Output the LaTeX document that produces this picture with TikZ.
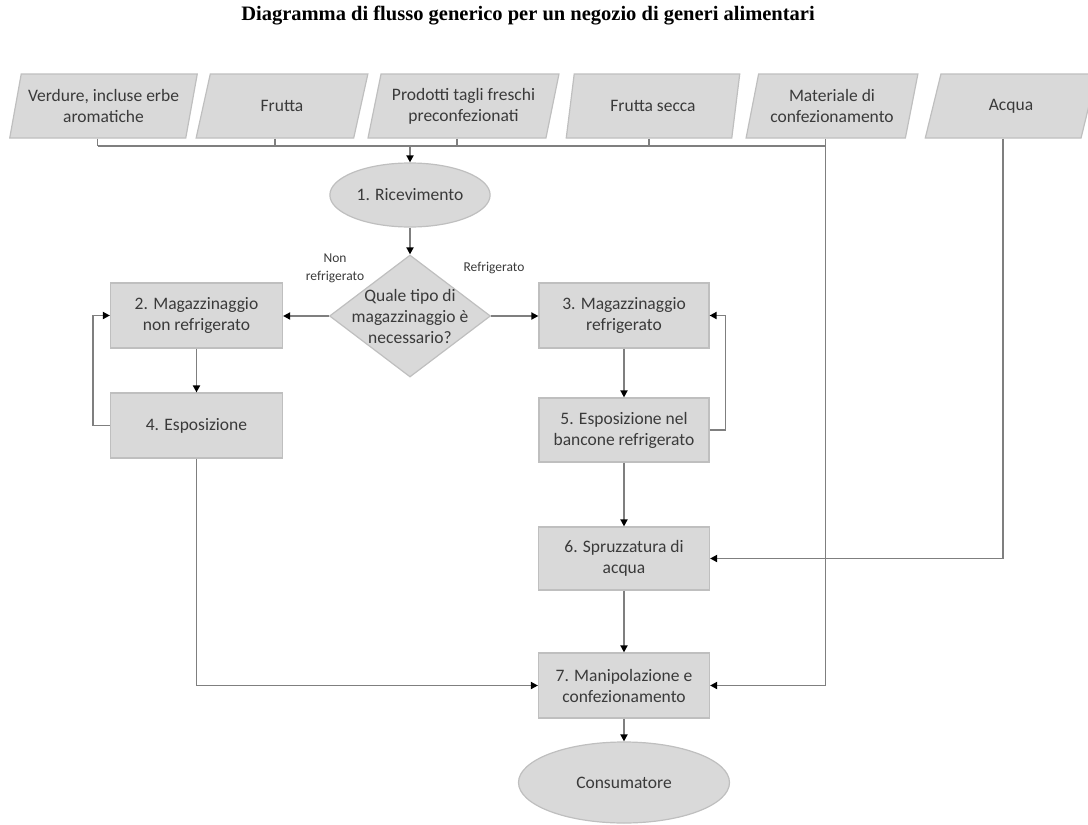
\documentclass[tikz,border=0pt]{standalone}
\usepackage{fontspec}
\setmainfont{Carlito}
\newfontfamily\titlefont{Liberation Serif}
\usetikzlibrary{shapes.geometric,arrows.meta}
\definecolor{boxgray}{HTML}{D9D9D9}
\definecolor{edgegray}{HTML}{BFBFBF}
\definecolor{linegray}{HTML}{7F7F7F}
\definecolor{txtgray}{HTML}{3A3A3A}
\begin{document}
\begin{tikzpicture}[x=1pt,y=-1pt,
    every node/.style={font=\fontsize{17.5}{21}\selectfont, text=txtgray},
    base/.style={draw=edgegray, fill=boxgray, line width=1.2pt, align=center},
    input/.style={base, trapezium, trapezium left angle=74, trapezium right angle=106,
      trapezium stretches=true, minimum height=64, inner xsep=1pt, inner ysep=2pt},
    process/.style={base, rectangle, minimum width=172, minimum height=65},
    terminal/.style={base, ellipse},
    decision/.style={base, diamond, minimum width=161, minimum height=122, inner sep=0pt},
    line/.style={draw=linegray, line width=1.7pt},
    arrow/.style={line, -{Triangle[length=7pt,width=7pt,color=black]}},
    branch/.style={font=\fontsize{13.5}{18}\selectfont, align=center}]
  \useasboundingbox (0,0) rectangle (1088,825);
  \node[font=\titlefont\bfseries\fontsize{20.5}{24}\selectfont, text=black] (title) at (528,16)
    {Diagramma di flusso generico per un negozio di generi alimentari};

  \node[input, minimum width=188] (verdure) at (103.5,106) {Verdure, incluse erbe\\aromatiche};
  \node[input, minimum width=172] (frutta) at (282,106) {Frutta};
  \node[input, minimum width=191] (prodotti) at (463.5,106) {Prodotti tagli freschi\\preconfezionati};
  \node[input, minimum width=174] (secca) at (653,106) {Frutta secca};
  \node[input, minimum width=172] (materiale) at (832,106) {Materiale di\\confezionamento};
  \node[input, minimum width=172] (acqua) at (1011,106) {Acqua};
  \coordinate (bus) at (0,146);

  \node[terminal, minimum width=152, minimum height=64] (ricev) at (410,195) {1. Ricevimento};
  \node[decision] (tipo) at (410,316) {};
  \node[align=center] (tipotext) at (tipo) {Quale tipo di\\magazzinaggio è\\necessario?};
  \node[branch] (nonref) at (335,268) {Non\\refrigerato};
  \node[branch] (ref) at (494,268) {Refrigerato};

  \node[process] (mag2) at (196.5,315.5) {2. Magazzinaggio\\non refrigerato};
  \node[process] (esp4) at (196.5,425.5) {4. Esposizione};
  \node[process, minimum width=170] (mag3) at (624,315.5) {3. Magazzinaggio\\refrigerato};
  \node[process, minimum width=170, minimum height=64] (esp5) at (624,430) {5. Esposizione nel\\bancone refrigerato};
  \node[process, minimum width=171, minimum height=63] (spruzz) at (624,558.5) {6. Spruzzatura di\\acqua};
  \node[process, minimum width=171] (manip) at (624,685.5) {7. Manipolazione e\\confezionamento};
  \node[terminal, minimum width=211, minimum height=81] (consum) at (624,782.5) {Consumatore};

  \foreach \n in {verdure,frutta,prodotti,secca}
    \draw[line] (\n.bottom side) -- (\n.bottom side |- bus);
  \draw[line] (verdure.bottom side |- bus) -- (materiale.bottom side |- bus);
  \draw[arrow] (ricev.north |- bus) -- (ricev.north);
  \draw[arrow] (ricev) -- (tipo);
  \draw[arrow] (tipo.west) -- (tipo.west -| mag2.east);
  \draw[arrow] (tipo.east) -- (tipo.east -| mag3.west);
  \draw[arrow] (mag2) -- (esp4);
  \draw[arrow] (esp4.west) -- ++(-17,0) |- (mag2.west);
  \draw[arrow] (mag3) -- (esp5);
  \draw[arrow] (esp5.east) -- ++(16,0) |- (mag3.east);
  \draw[arrow] (esp5) -- (spruzz);
  \draw[arrow] (spruzz) -- (manip);
  \draw[arrow] (manip) -- (consum);
  \draw[arrow] (esp4.south) |- (manip.west);
  \draw[arrow] (materiale.bottom side) |- (manip.east);
  \draw[arrow] (acqua.bottom side) |- (spruzz.east);
\end{tikzpicture}
\end{document}
